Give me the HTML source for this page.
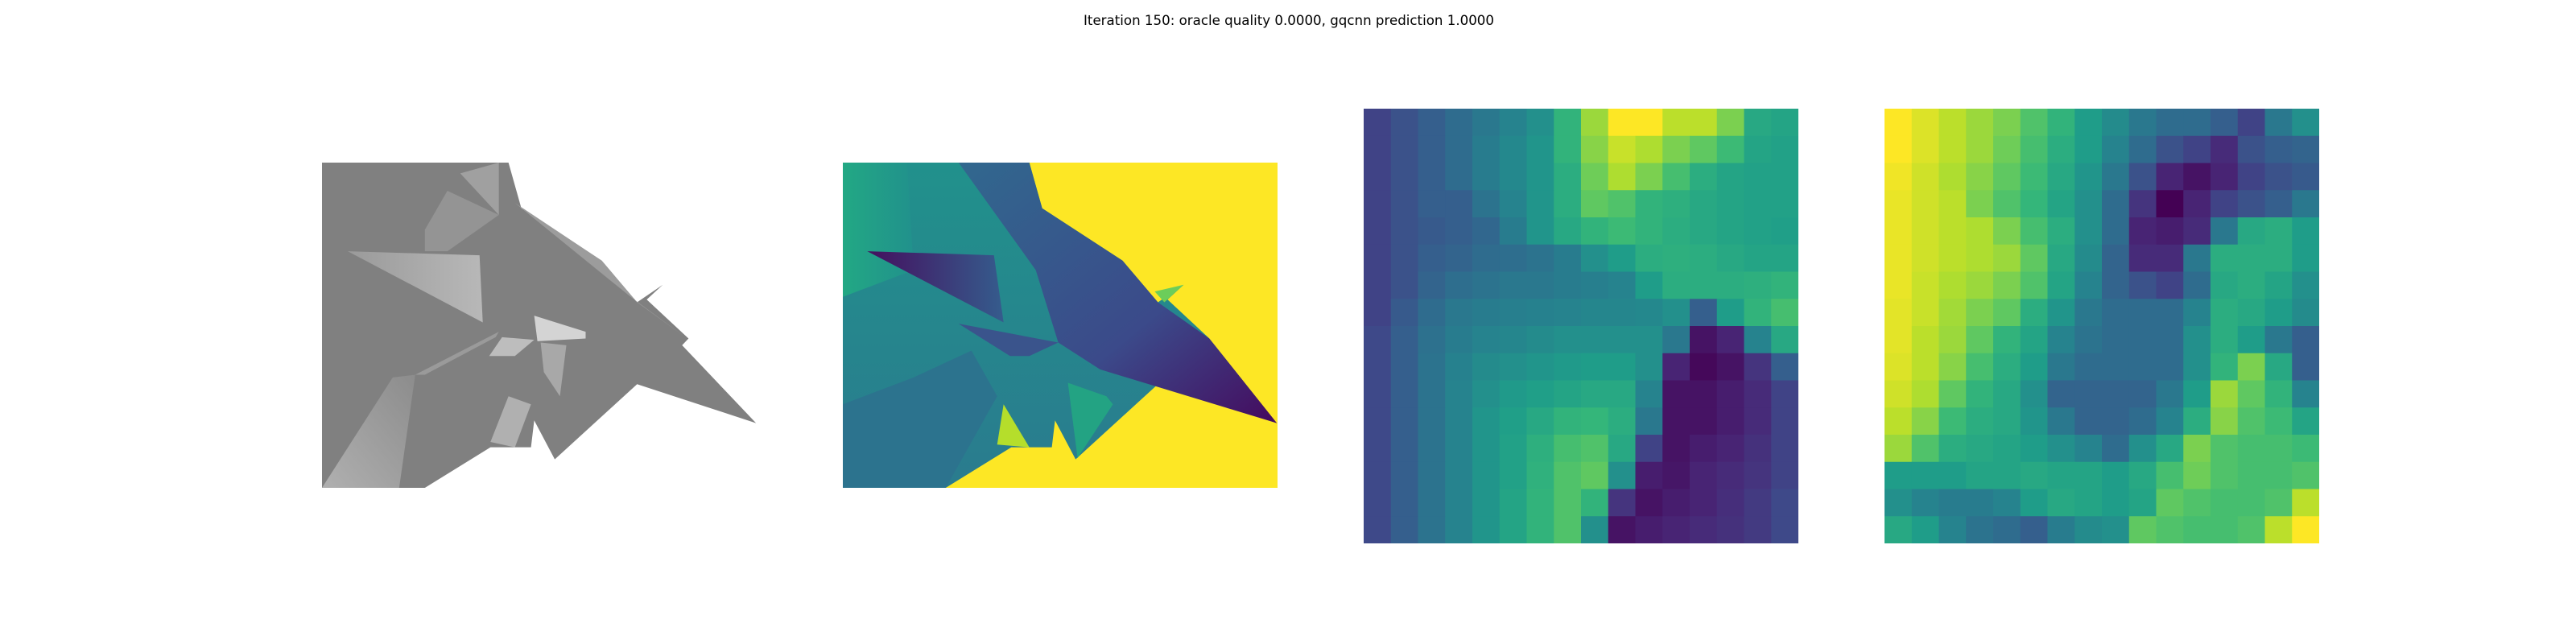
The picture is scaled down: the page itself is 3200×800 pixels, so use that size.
<!DOCTYPE html>
<html><head><meta charset="utf-8">
<style>
html,body{margin:0;padding:0;background:#fff;}
#root{position:relative;width:3200px;height:800px;background:#fff;overflow:hidden;}
svg{position:absolute;}
</style></head>
<body>
<div id="root">
<svg style="left:0;top:0" width="3200" height="60">
<text x="1601" y="31" text-anchor="middle" textLength="510" lengthAdjust="spacingAndGlyphs" font-family="DejaVu Sans, Liberation Sans, sans-serif" font-size="17" fill="#000">Iteration 150: oracle quality 0.0000, gqcnn prediction 1.0000</text>
</svg>

<svg style="left:400px;top:202px" width="540" height="404" viewBox="0 0 676 1211" preserveAspectRatio="none">
<defs>
<linearGradient id="g1" x1="0" y1="0" x2="1" y2="0"><stop offset="0" stop-color="#9a9a9a"/><stop offset="1" stop-color="#b8b8b8"/></linearGradient>
<linearGradient id="g2" x1="0" y1="1" x2="1" y2="0"><stop offset="0" stop-color="#b0b0b0"/><stop offset="1" stop-color="#8c8c8c"/></linearGradient>
</defs>
<polygon fill="#808080" points="0,0 290,0 310,170 435,365 490,520 530,455 505,510 570,655 560,680 675,970 490,825 362,1105 330,960 325,1060 262,1060 160,1211 0,1211"/>
<polygon fill="url(#g1)" points="40,330 245,345 250,595"/>
<polygon fill="#a0a0a0" points="215,40 275,0 275,195"/>
<polygon fill="#949494" points="195,105 160,250 160,330 195,330 275,195"/>
<polygon fill="#9c9c9c" points="300,150 435,365 490,520 565,650 480,500"/>
<polygon fill="url(#g2)" points="0,1211 110,800 145,790 120,1211"/>
<polygon fill="#9a9a9a" points="145,790 275,630 270,650 160,790"/>
<polygon fill="#d4d4d4" points="330,570 410,630 410,655 335,665"/>
<polygon fill="#bdbdbd" points="280,650 330,660 300,720 260,720"/>
<polygon fill="#b0b0b0" points="290,870 325,900 300,1060 262,1040"/>
<polygon fill="#a8a8a8" points="340,670 380,680 370,870 345,780"/>
</svg>

<svg style="left:1047px;top:202px" width="540" height="404" viewBox="0 0 676 1211" preserveAspectRatio="none">
<defs>
<linearGradient id="d1" x1="0" y1="0" x2="1" y2="0"><stop offset="0" stop-color="#440f5e"/><stop offset="1" stop-color="#355c8d"/></linearGradient>
<linearGradient id="d2" x1="0" y1="0" x2="1" y2="1"><stop offset="0" stop-color="#31688e"/><stop offset="0.6" stop-color="#3b4a8a"/><stop offset="1" stop-color="#450a5e"/></linearGradient>
<linearGradient id="d3" x1="0" y1="0" x2="0" y2="1"><stop offset="0" stop-color="#21918c"/><stop offset="1" stop-color="#2a7b8e"/></linearGradient>
<linearGradient id="d4" x1="0" y1="0" x2="1" y2="0"><stop offset="0" stop-color="#22a884"/><stop offset="1" stop-color="#21918c"/></linearGradient>
</defs>
<rect x="0" y="0" width="676" height="1211" fill="#fde725"/>
<polygon fill="url(#d3)" points="0,0 290,0 310,170 435,365 490,520 530,455 505,510 570,655 560,680 675,970 490,825 362,1105 330,960 325,1060 262,1060 160,1211 0,1211"/>
<polygon fill="url(#d4)" points="0,0 100,0 110,400 0,500"/>
<polygon fill="#2c738e" points="0,1211 0,900 110,800 200,700 240,870 160,1211"/>
<polygon fill="url(#d2)" points="180,0 290,0 310,170 435,365 490,520 570,655 675,970 400,770 335,670 300,400"/>
<polygon fill="url(#d1)" points="38,330 235,345 250,595"/>
<polygon fill="#3a548c" points="180,600 335,670 290,720 260,720"/>
<polygon fill="#b5de2b" points="250,900 290,1060 240,1050"/>
<polygon fill="#23a383" points="350,820 410,870 420,900 365,1100"/>
<polygon fill="#6ccd5a" points="485,480 530,455 500,520"/>
</svg>

<svg id="hm3" style="left:1694px;top:135px" width="540" height="540"></svg>
<svg id="hm4" style="left:2341px;top:135px" width="540" height="540"></svg>
</div>
<script>
const heatmapA = [
[0.2,0.25,0.3,0.35,0.4,0.45,0.5,0.65,0.85,1.0,1.0,0.9,0.9,0.8,0.6,0.58],
[0.2,0.25,0.3,0.35,0.42,0.47,0.52,0.65,0.82,0.92,0.88,0.8,0.75,0.68,0.58,0.57],
[0.2,0.25,0.3,0.35,0.42,0.47,0.52,0.62,0.78,0.88,0.8,0.7,0.62,0.58,0.57,0.57],
[0.2,0.25,0.3,0.3,0.38,0.45,0.52,0.62,0.75,0.72,0.65,0.63,0.6,0.58,0.57,0.57],
[0.2,0.25,0.28,0.3,0.33,0.42,0.52,0.6,0.65,0.68,0.65,0.62,0.6,0.58,0.57,0.56],
[0.2,0.25,0.3,0.32,0.35,0.36,0.38,0.42,0.5,0.55,0.62,0.63,0.62,0.6,0.58,0.58],
[0.2,0.25,0.32,0.36,0.38,0.4,0.4,0.42,0.43,0.45,0.55,0.62,0.62,0.62,0.63,0.65],
[0.2,0.28,0.35,0.4,0.42,0.43,0.44,0.45,0.46,0.46,0.47,0.5,0.3,0.55,0.65,0.7],
[0.22,0.3,0.37,0.42,0.45,0.46,0.48,0.5,0.5,0.5,0.5,0.4,0.05,0.1,0.45,0.6],
[0.22,0.3,0.38,0.44,0.48,0.5,0.52,0.54,0.55,0.55,0.5,0.1,0.02,0.05,0.15,0.3],
[0.22,0.3,0.38,0.45,0.5,0.54,0.56,0.58,0.6,0.6,0.45,0.05,0.05,0.08,0.12,0.2],
[0.22,0.3,0.38,0.45,0.52,0.56,0.6,0.65,0.66,0.62,0.4,0.05,0.05,0.08,0.12,0.2],
[0.22,0.3,0.38,0.45,0.52,0.57,0.63,0.7,0.72,0.6,0.2,0.05,0.08,0.1,0.14,0.2],
[0.22,0.3,0.38,0.45,0.52,0.57,0.64,0.72,0.75,0.5,0.08,0.06,0.1,0.12,0.15,0.2],
[0.22,0.3,0.38,0.45,0.52,0.58,0.65,0.72,0.65,0.15,0.05,0.08,0.1,0.13,0.17,0.22],
[0.22,0.3,0.38,0.45,0.52,0.58,0.65,0.72,0.5,0.05,0.08,0.1,0.12,0.14,0.17,0.22]
];
const heatmapB = [
[1.0,0.95,0.9,0.85,0.8,0.72,0.65,0.55,0.48,0.4,0.35,0.35,0.3,0.2,0.4,0.5],
[1.0,0.95,0.9,0.85,0.78,0.7,0.62,0.55,0.45,0.35,0.25,0.2,0.12,0.25,0.3,0.32],
[0.98,0.93,0.88,0.82,0.75,0.68,0.6,0.52,0.4,0.25,0.1,0.05,0.1,0.2,0.25,0.28],
[0.97,0.93,0.9,0.8,0.72,0.66,0.58,0.5,0.35,0.15,0.0,0.1,0.2,0.25,0.3,0.4],
[0.97,0.93,0.9,0.88,0.8,0.7,0.62,0.5,0.35,0.1,0.08,0.12,0.4,0.6,0.62,0.55],
[0.97,0.93,0.9,0.88,0.85,0.75,0.6,0.48,0.32,0.12,0.12,0.4,0.62,0.62,0.62,0.55],
[0.97,0.92,0.88,0.85,0.8,0.72,0.58,0.45,0.32,0.25,0.2,0.35,0.6,0.62,0.58,0.5],
[0.96,0.92,0.86,0.8,0.75,0.62,0.52,0.4,0.35,0.35,0.35,0.45,0.62,0.6,0.55,0.48],
[0.96,0.9,0.85,0.75,0.65,0.58,0.45,0.38,0.35,0.35,0.35,0.5,0.62,0.55,0.4,0.3],
[0.95,0.9,0.82,0.7,0.62,0.55,0.4,0.35,0.35,0.35,0.35,0.5,0.65,0.8,0.6,0.3],
[0.93,0.88,0.75,0.65,0.6,0.5,0.32,0.32,0.32,0.32,0.4,0.55,0.85,0.75,0.65,0.45],
[0.9,0.82,0.68,0.62,0.6,0.52,0.4,0.32,0.32,0.35,0.45,0.62,0.82,0.72,0.68,0.58],
[0.85,0.72,0.62,0.6,0.58,0.55,0.5,0.45,0.35,0.5,0.6,0.8,0.72,0.7,0.7,0.68],
[0.55,0.55,0.55,0.58,0.58,0.6,0.58,0.58,0.55,0.6,0.7,0.78,0.72,0.7,0.7,0.72],
[0.5,0.45,0.42,0.42,0.45,0.55,0.6,0.58,0.55,0.58,0.75,0.72,0.7,0.7,0.72,0.9],
[0.6,0.55,0.45,0.38,0.35,0.3,0.42,0.48,0.5,0.75,0.72,0.7,0.7,0.72,0.9,1.0]
];
const VIR = [[68,1,84],[72,40,120],[62,74,137],[49,104,142],[38,130,142],[31,158,137],[53,183,121],[109,205,89],[180,222,44],[253,231,37]];
function viridis(t){
  t=Math.max(0,Math.min(1,t))*(VIR.length-1);
  const i=Math.min(Math.floor(t),VIR.length-2), f=t-i;
  const c=VIR[i].map((v,k)=>Math.round(v+(VIR[i+1][k]-v)*f));
  return 'rgb('+c.join(',')+')';
}
function drawHeatmap(id, data){
  const svg=document.getElementById(id);
  const n=data.length, m=data[0].length, W=540, H=540;
  const cw=W/m, ch=H/n;
  for(let r=0;r<n;r++){
    for(let c=0;c<m;c++){
      const rect=document.createElementNS('http://www.w3.org/2000/svg','rect');
      rect.setAttribute('x',(c*cw).toFixed(2));
      rect.setAttribute('y',(r*ch).toFixed(2));
      rect.setAttribute('width',(cw+0.6).toFixed(2));
      rect.setAttribute('height',(ch+0.6).toFixed(2));
      rect.setAttribute('fill',viridis(data[r][c]));
      
      
      svg.appendChild(rect);
    }
  }
}
drawHeatmap('hm3', heatmapA);
drawHeatmap('hm4', heatmapB);
</script>
</body></html>
